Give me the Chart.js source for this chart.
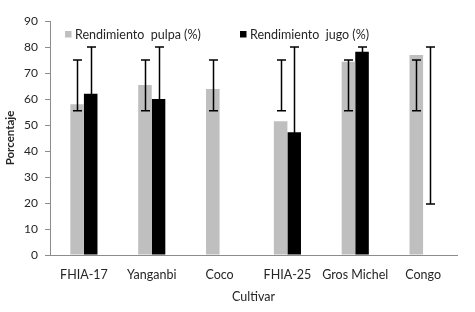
<!DOCTYPE html>
<html><head><meta charset="utf-8">
<script src="https://cdn.jsdelivr.net/npm/chart.js@4/dist/chart.umd.min.js"></script>
<style>html,body{margin:0;padding:0;background:#fff}</style>
</head><body>
<canvas id="c" width="475" height="312"></canvas>
<script>
const categories = ['FHIA-17', 'Yanganbi', 'Coco', 'FHIA-25', 'Gros Michel', 'Congo'];
const seriesNames = ['Rendimiento  pulpa (%)', 'Rendimiento  jugo (%)'];
const pulpaValues = [58, 65.4, 63.8, 51.4, 74.3, 76.9];
const jugoValues = [62, 60, 0, 47.2, 78.2, 0];
const pulpaErrLow = [55.5, 55.5, 55.5, 55.5, 55.5, 55.5];
const pulpaErrHigh = [75, 75, 75, 75, 75, 75];
const jugoErrLow = [19.6, 19.6, null, 19.6, 19.6, 19.6];
const jugoErrHigh = [80, 80, null, 80, 80, 80];
const yTicks = [0, 10, 20, 30, 40, 50, 60, 70, 80, 90];

const FONT = 'Lato';
const TXT = '#262626';

const errorBars = {
  id: 'errorBars',
  afterDatasetsDraw(chart) {
    const ctx = chart.ctx, y = chart.scales.y;
    chart.data.datasets.forEach((ds, d) => {
      const meta = chart.getDatasetMeta(d);
      meta.data.forEach((el, i) => {
        const lo = ds.errLow[i], hi = ds.errHigh[i];
        if (lo == null || hi == null) return;
        const x = Math.round(el.x) + 0.5;
        const yl = y.getPixelForValue(lo), yh = y.getPixelForValue(hi);
        ctx.save();
        ctx.strokeStyle = '#000';
        ctx.lineWidth = 1.5;
        ctx.beginPath();
        ctx.moveTo(x, yl); ctx.lineTo(x, yh);
        ctx.moveTo(x - 4.5, yl); ctx.lineTo(x + 4.5, yl);
        ctx.moveTo(x - 4.5, yh); ctx.lineTo(x + 4.5, yh);
        ctx.stroke();
        ctx.restore();
      });
    });
  }
};

const innerLegend = {
  id: 'innerLegend',
  afterDraw(chart) {
    const ctx = chart.ctx, a = chart.chartArea;
    const offs = [15, 190];
    ctx.save();
    ctx.font = '12.5px ' + FONT;
    ctx.textBaseline = 'middle';
    ctx.textAlign = 'left';
    chart.data.datasets.forEach((ds, d) => {
      const x = a.left + offs[d];
      const yc = a.top + 13.5;
      ctx.fillStyle = ds.backgroundColor;
      ctx.fillRect(x, yc - 3.5, 6.5, 6.5);
      ctx.fillStyle = TXT;
      ctx.fillText(ds.label, x + 10, yc);
    });
    ctx.restore();
  }
};

new Chart(document.getElementById('c'), {
  type: 'bar',
  data: {
    labels: categories,
    datasets: [
      { label: seriesNames[0], data: pulpaValues, backgroundColor: '#bfbfbf', errLow: pulpaErrLow, errHigh: pulpaErrHigh },
      { label: seriesNames[1], data: jugoValues, backgroundColor: '#000000', errLow: jugoErrLow, errHigh: jugoErrHigh }
    ]
  },
  options: {
    responsive: false,
    animation: false,
    devicePixelRatio: 1,
    layout: { padding: { left: 0, right: 18, top: 21, bottom: 0 } },
    datasets: { bar: { categoryPercentage: 0.4, barPercentage: 1.0 } },
    plugins: { legend: { display: false }, tooltip: { enabled: false } },
    scales: {
      x: {
        grid: { display: false, drawTicks: false },
        border: { display: true, color: '#8c8c8c', width: 1 },
        ticks: { font: { family: FONT, size: 12.5 }, color: TXT, padding: 12, maxRotation: 0, autoSkip: false },
        title: { display: true, text: 'Cultivar', font: { family: FONT, size: 12.5 }, color: TXT, padding: { top: 4, bottom: 8 } },
        afterFit(s) { s.height = 57; }
      },
      y: {
        min: 0, max: 90,
        afterBuildTicks(s) { s.ticks = yTicks.map(v => ({ value: v })); },
        grid: { drawOnChartArea: false, drawTicks: true, tickLength: 5, color: '#8c8c8c' },
        border: { display: true, color: '#8c8c8c', width: 1 },
        ticks: { font: { family: FONT, size: 12 }, color: TXT, padding: 7 },
        title: { display: true, text: 'Porcentaje', font: { family: FONT, size: 11.5, weight: 'bold' }, color: TXT, padding: { top: 3, bottom: 0 } },
        afterFit(s) { s.width = 50; }
      }
    }
  },
  plugins: [errorBars, innerLegend]
});
</script>
</body></html>
